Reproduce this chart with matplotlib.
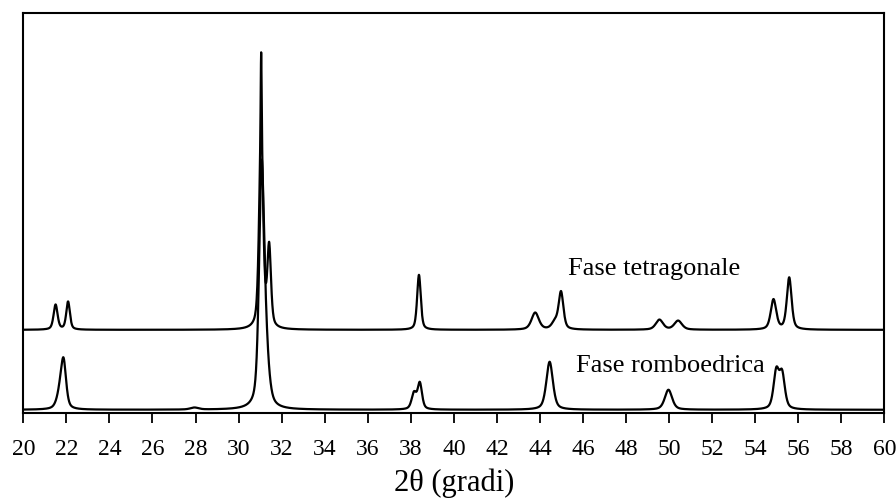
import numpy as np
import matplotlib
matplotlib.use("Agg")
import matplotlib.pyplot as plt

# ── Peak tables (2theta, height, FWHM) ─────────────────────────────────────────
tetra_pos    = [21.50, 22.08, 31.05, 31.05, 31.42, 38.38, 43.78, 44.70, 44.98,
                49.55, 50.42, 54.85, 55.58]
tetra_height = [25, 28, 195, 80, 80, 55, 17, 7, 37, 10, 9, 30, 52]
tetra_fwhm   = [0.22, 0.20, 0.22, 0.05, 0.20, 0.20, 0.40, 0.35, 0.26,
                0.40, 0.42, 0.30, 0.26]
tetra_base   = 83

rhombo_pos    = [21.70, 21.87, 27.95, 31.07, 31.27, 38.15, 38.42, 44.45,
                 49.97, 54.98, 55.25]
rhombo_height = [14, 45, 2, 232, 45, 16, 26, 48, 20, 37, 34]
rhombo_fwhm   = [0.35, 0.28, 0.45, 0.28, 0.34, 0.26, 0.24, 0.36, 0.40, 0.30, 0.30]
rhombo_base   = 3

X_MIN, X_MAX = 20, 60
x_ticks = list(range(20, 61, 2))

label_tetra  = "Fase tetragonale"
label_rhombo = "Fase romboedrica"
x_label      = "2θ (gradi)"


def pattern(two_theta, pos, height, fwhm, base, eta=0.5):
    """Pseudo-Voigt sum on a flat baseline."""
    y = np.full_like(two_theta, float(base))
    for p, h, w in zip(pos, height, fwhm):
        d = (two_theta - p) / (w / 2)
        gauss = np.exp(-np.log(2) * d ** 2)
        lorentz = 1.0 / (1.0 + d ** 2)
        y += h * (eta * lorentz + (1 - eta) * gauss)
    return y


plt.rcParams["font.family"] = ["Liberation Serif", "DejaVu Serif"]

two_theta = np.arange(X_MIN, X_MAX + 1e-9, 0.01)
y_tetra  = pattern(two_theta, tetra_pos, tetra_height, tetra_fwhm, tetra_base)
y_rhombo = pattern(two_theta, rhombo_pos, rhombo_height, rhombo_fwhm, rhombo_base)

fig = plt.figure(figsize=(8.96, 5.04), dpi=100)
ax = fig.add_axes([0.026, 0.181, 0.961, 0.793])

ax.plot(two_theta, y_tetra, color="black", lw=1.6)
ax.plot(two_theta, y_rhombo, color="black", lw=1.6)

ax.set_xlim(X_MIN, X_MAX)
ax.set_ylim(0, 400)
ax.set_xticks(x_ticks)
ax.set_xticklabels([str(t) for t in x_ticks], fontsize=17)
ax.set_yticks([])
ax.tick_params(axis="x", direction="out", length=7, width=1.3, pad=12)
for s in ax.spines.values():
    s.set_linewidth(1.5)

ax.set_xlabel(x_label, fontsize=22, labelpad=6)

ax.text(45.29, 138, label_tetra, fontsize=19, ha="left", va="baseline")
ax.text(45.67, 41, label_rhombo, fontsize=19, ha="left", va="baseline")

fig.savefig("out.png", dpi=100)
